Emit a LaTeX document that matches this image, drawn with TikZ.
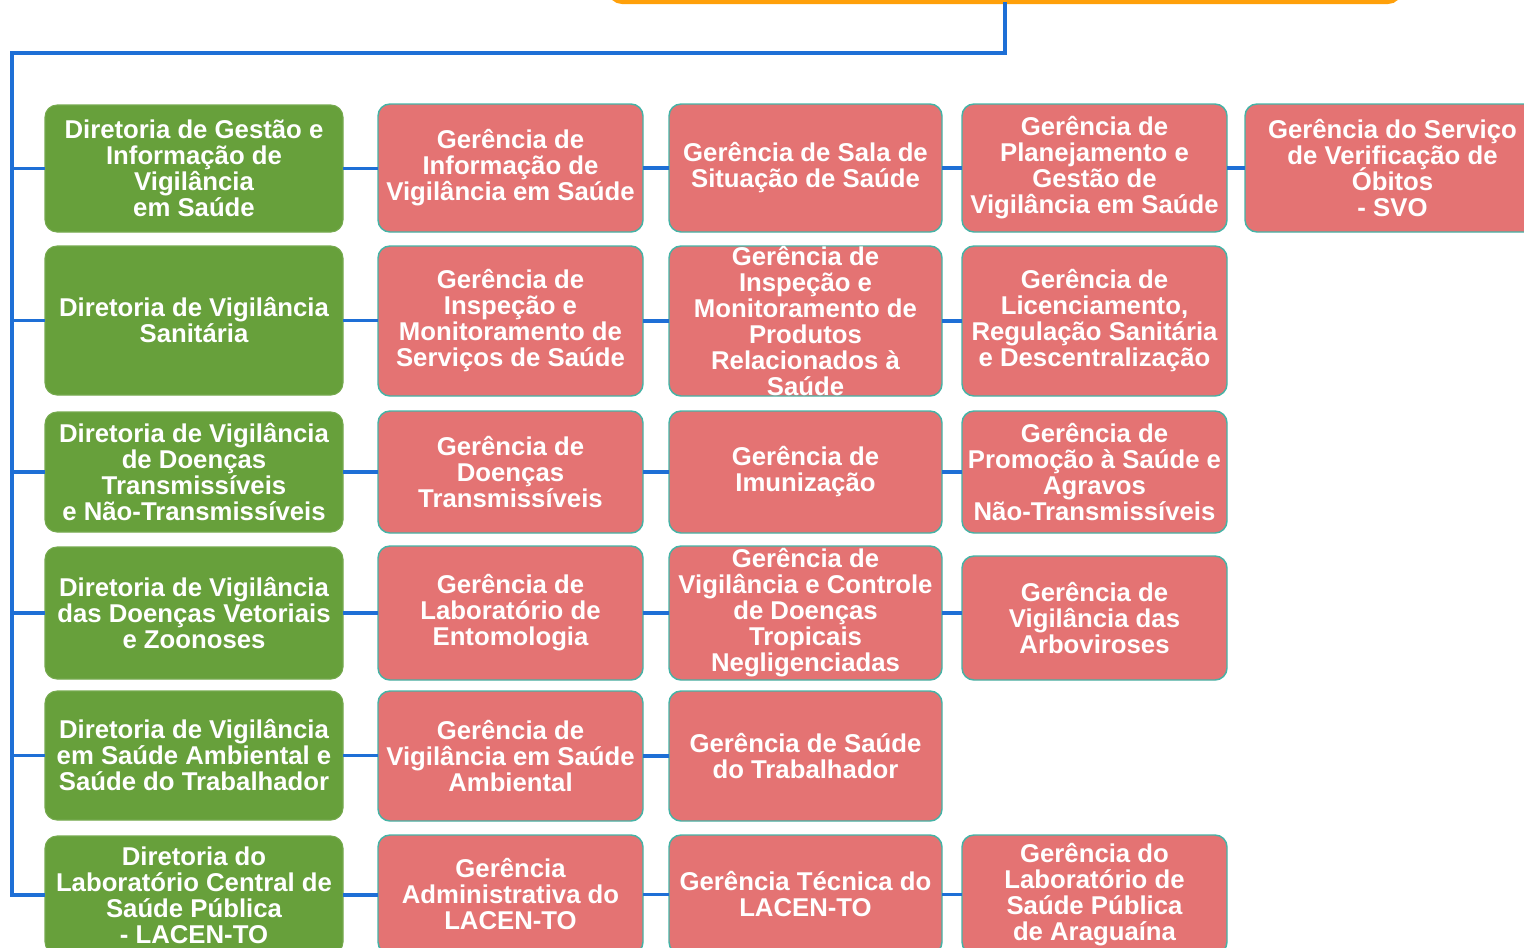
\documentclass[tikz,border=0pt]{standalone}
\usepackage{fontspec}
\setmainfont{Liberation Sans}
\definecolor{gfill}{HTML}{67A03B}
\definecolor{rfill}{HTML}{E47373}
\definecolor{rline}{HTML}{45B3A6}
\definecolor{bline}{HTML}{1E6FD6}
\definecolor{oline}{HTML}{FFA00A}
\newcommand\boxtxtfont{\fontsize{19.3}{19.5}\selectfont\bfseries\lineskiplimit=-100pt\relax\lineskip=0pt\relax}
\tikzset{
  boxbase/.style={rounded corners=9pt, inner sep=0pt, outer sep=0pt},
  gbox/.style={boxbase, fill=gfill, draw=gfill!90!white, line width=0.8pt},
  rbox/.style={boxbase, fill=rfill, draw=rline, line width=1.1pt},
  txt/.style={text=white, align=center, inner sep=0pt, font=\boxtxtfont},
  conn/.style={draw=bline, line width=2.3pt}
}
\newcommand\mkbox[7]{%
  \node[#1, minimum width={(#5-#3)*0.75pt}, minimum height={(#6-#4)*0.75pt}] (#2) at ({(#3+#5)/2},{(#4+#6)/2}) {};
  \node[txt] (#2t) at (#2) {#7};}
\newcommand\hconn[2]{\draw[conn] (#1.east) -- (#1.east -| #2.west);}
\begin{document}
\begin{tikzpicture}[x=0.75pt,y=-0.75pt]
\useasboundingbox (0,0) rectangle (1524,947);
\clip (0,0) rectangle (1524,947);
% top box
\node[boxbase, draw=oline, line width=3pt, fill=white, minimum width={790*0.75pt}, minimum height={80*0.75pt}] (top) at (1005,-38) {};
% green column
\mkbox{gbox}{g1}{45}{105}{343}{232}{Diretoria de Gestão e\\Informação de\\Vigilância\\ em Saúde}
\mkbox{gbox}{g2}{45}{246}{343}{395}{Diretoria de Vigilância\\Sanitária}
\mkbox{gbox}{g3}{45}{412}{343}{532}{Diretoria de Vigilância\\de Doenças\\ Transmissíveis\\ e Não-Transmissíveis}
\mkbox{gbox}{g4}{45}{547}{343}{679}{Diretoria de Vigilância\\das Doenças Vetoriais\\ e Zoonoses}
\mkbox{gbox}{g5}{45}{691}{343}{820}{Diretoria de Vigilância\\ em Saúde Ambiental e\\ Saúde do Trabalhador}
\mkbox{gbox}{g6}{45}{836}{343}{954}{Diretoria do\\Laboratório Central de\\Saúde Pública\\ - LACEN-TO}
% row 1
\mkbox{rbox}{r11}{378}{104}{643}{232}{Gerência de\\Informação de\\Vigilância em Saúde}
\mkbox{rbox}{r12}{669}{104}{942}{232}{Gerência de Sala de\\Situação de Saúde}
\mkbox{rbox}{r13}{962}{104}{1227}{232}{Gerência de\\Planejamento e\\Gestão de\\Vigilância em Saúde}
\mkbox{rbox}{r14}{1245}{104}{1540}{232}{Gerência do Serviço\\de Verificação de\\Óbitos\\- SVO}
% row 2
\mkbox{rbox}{r21}{378}{246}{643}{396}{Gerência de\\Inspeção e\\ Monitoramento de\\ Serviços de Saúde}
\mkbox{rbox}{r22}{669}{246}{942}{396}{Gerência de\\Inspeção e\\ Monitoramento de\\Produtos\\ Relacionados à\\ Saúde}
\mkbox{rbox}{r23}{962}{246}{1227}{396}{Gerência de\\Licenciamento,\\ Regulação Sanitária\\ e Descentralização}
% row 3
\mkbox{rbox}{r31}{378}{411}{643}{533}{Gerência de\\Doenças\\Transmissíveis}
\mkbox{rbox}{r32}{669}{411}{942}{533}{Gerência de\\ Imunização}
\mkbox{rbox}{r33}{962}{411}{1227}{533}{Gerência de\\Promoção à Saúde e\\Agravos\\ Não-Transmissíveis}
% row 4
\mkbox{rbox}{r41}{378}{546}{643}{680}{Gerência de\\Laboratório de\\Entomologia}
\mkbox{rbox}{r42}{669}{546}{942}{680}{Gerência de\\Vigilância e Controle\\de Doenças\\ Tropicais\\ Negligenciadas}
\mkbox{rbox}{r43}{962}{556}{1227}{680}{Gerência de\\ Vigilância das\\ Arboviroses}
% row 5
\mkbox{rbox}{r51}{378}{691}{643}{821}{Gerência de\\Vigilância em Saúde\\ Ambiental}
\mkbox{rbox}{r52}{669}{691}{942}{821}{Gerência de Saúde\\ do Trabalhador}
% row 6
\mkbox{rbox}{r61}{378}{835}{643}{954}{Gerência\\Administrativa do\\ LACEN-TO}
\mkbox{rbox}{r62}{669}{835}{942}{954}{Gerência Técnica do\\ LACEN-TO}
\mkbox{rbox}{r63}{962}{835}{1227}{954}{Gerência do\\ Laboratório de\\ Saúde Pública\\ de Araguaína}
% connectors
\coordinate (bus) at (12,53);
\draw[conn] (top.south) |- (bus) |- (g6.west);
\foreach \g in {g1,g2,g3,g4,g5}{\draw[conn] (bus |- \g.west) -- (\g.west);}
\hconn{g1}{r11} \hconn{r11}{r12} \hconn{r12}{r13} \hconn{r13}{r14}
\hconn{g2}{r21} \hconn{r21}{r22} \hconn{r22}{r23}
\hconn{g3}{r31} \hconn{r31}{r32} \hconn{r32}{r33}
\hconn{g4}{r41} \hconn{r41}{r42} \hconn{r42}{r43}
\hconn{g5}{r51} \hconn{r51}{r52}
\hconn{g6}{r61} \hconn{r61}{r62} \hconn{r62}{r63}
\end{tikzpicture}
\end{document}
